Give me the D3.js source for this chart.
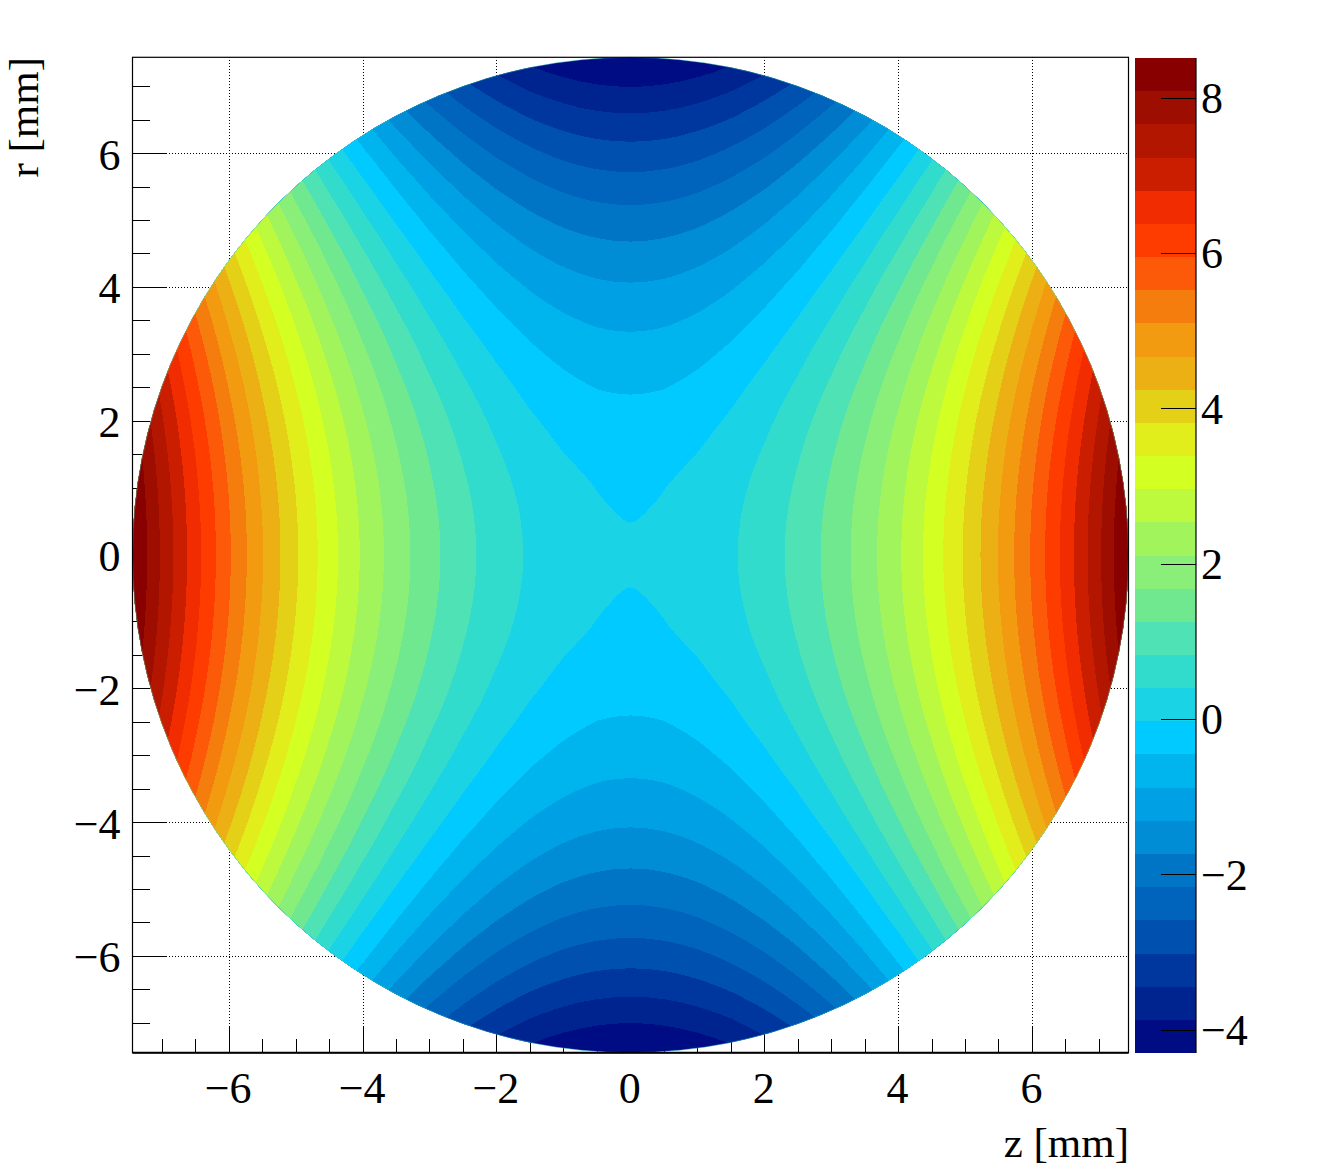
<!DOCTYPE html>
<html>
<head>
<meta charset="utf-8">
<script src="https://cdn.jsdelivr.net/npm/d3@7"></script>
<style>
  html, body { margin: 0; background: #fff; }
  text { font-family: "Liberation Serif", serif; fill: #000; }
</style>
</head>
<body>
<div id="my_dataviz"></div>
<script>
const width = 1328; const height = 1170;

// axis ranges
const zExtent = [-7.44, 7.44];
const rExtent = [-7.44, 7.44];
const colorExtent = [-4.294, 8.517];
const majorTicks = [-6, -4, -2, 0, 2, 4, 6];
const minorTicks = [-7, -6.5, -5.5, -5, -4.5, -3.5, -3, -2.5, -1.5, -1, -0.5,
    0.5, 1, 1.5, 2.5, 3, 3.5, 4.5, 5, 5.5, 6.5, 7];
const colorTicks = [-4, -2, 0, 2, 4, 6, 8];

// band colours, lowest value first
const bandColors = ["#000c84", "#00248f", "#00379e", "#0051af", "#0064bc", "#0075c6",
    "#008dd6", "#00a0e4", "#00b5ee", "#00caff", "#1ad4e6", "#32dccc", "#4fe2b4", "#6fe890",
    "#8aef78", "#a2f45c", "#bdf93c", "#d4ff22", "#e2ee1c", "#e5d018", "#ecb014", "#f29a10",
    "#f57d0e", "#fc5a08", "#ff3c00", "#f12c00", "#cb1e00", "#b21500", "#9e0e00", "#880000"];

// map values, one quadrant, the other three are mirrored
const gridStep = 0.5;
const potential = [
    [0.006, 0.045, 0.161, 0.355, 0.626, 0.975, 1.401, 1.905, 2.486, 3.145, 3.881, 4.695, 5.586, 6.555, 7.601, 8.725, 9.926],
    [-0.025, -0.0188, 0.141, 0.335, 0.606, 0.955, 1.381, 1.885, 2.466, 3.125, 3.861, 4.675, 5.566, 6.535, 7.581, 8.705, 9.906],
    [-0.073, -0.0245, 0.082, 0.276, 0.547, 0.896, 1.322, 1.826, 2.407, 3.066, 3.802, 4.616, 5.507, 6.476, 7.522, 8.646, 9.847],
    [-0.172, -0.133, -0.017, 0.177, 0.448, 0.797, 1.223, 1.727, 2.308, 2.967, 3.703, 4.517, 5.408, 6.377, 7.423, 8.547, 9.748],
    [-0.322, -0.283, -0.163, 0.035, 0.31, 0.659, 1.085, 1.589, 2.17, 2.829, 3.565, 4.379, 5.27, 6.239, 7.285, 8.409, 9.61],
    [-0.5, -0.461, -0.341, -0.143, 0.132, 0.481, 0.907, 1.411, 1.992, 2.651, 3.387, 4.201, 5.092, 6.061, 7.107, 8.231, 9.432],
    [-0.717, -0.678, -0.558, -0.36, -0.085, 0.264, 0.69, 1.194, 1.775, 2.434, 3.17, 3.984, 4.875, 5.844, 6.89, 8.014, 9.215],
    [-0.974, -0.935, -0.815, -0.617, -0.342, 0.007, 0.433, 0.937, 1.518, 2.177, 2.913, 3.727, 4.618, 5.587, 6.633, 7.757, 8.958],
    [-1.27, -1.231, -1.111, -0.913, -0.638, -0.289, 0.137, 0.641, 1.222, 1.881, 2.617, 3.431, 4.322, 5.291, 6.337, 7.461, 8.662],
    [-1.606, -1.567, -1.447, -1.249, -0.974, -0.625, -0.199, 0.305, 0.886, 1.545, 2.281, 3.095, 3.986, 4.955, 6.001, 7.125, 8.326],
    [-1.981, -1.942, -1.822, -1.624, -1.349, -1, -0.574, -0.07, 0.511, 1.17, 1.906, 2.72, 3.611, 4.58, 5.626, 6.75, 7.951],
    [-2.396, -2.357, -2.237, -2.039, -1.764, -1.415, -0.989, -0.485, 0.096, 0.755, 1.491, 2.305, 3.196, 4.165, 5.211, 6.335, 7.536],
    [-2.85, -2.811, -2.691, -2.493, -2.218, -1.869, -1.443, -0.939, -0.358, 0.301, 1.037, 1.851, 2.742, 3.711, 4.757, 5.881, 7.082],
    [-3.344, -3.305, -3.185, -2.987, -2.712, -2.363, -1.937, -1.433, -0.852, -0.193, 0.543, 1.357, 2.248, 3.217, 4.263, 5.387, 6.588],
    [-3.877, -3.838, -3.718, -3.52, -3.245, -2.896, -2.47, -1.966, -1.385, -0.726, 0.01, 0.824, 1.715, 2.684, 3.73, 4.854, 6.055],
    [-4.45, -4.411, -4.291, -4.093, -3.818, -3.469, -3.043, -2.539, -1.958, -1.299, -0.563, 0.251, 1.142, 2.111, 3.157, 4.281, 5.482],
    [-5.062, -5.023, -4.903, -4.705, -4.43, -4.081, -3.655, -3.151, -2.57, -1.911, -1.175, -0.361, 0.53, 1.499, 2.545, 3.669, 4.87]
];

const x = d3.scaleLinear().domain(zExtent).range([132.5, 1128.5]);
const y = d3.scaleLinear().domain(rExtent).range([1052.7, 57.3]);
const colorY = d3.scaleLinear().domain(colorExtent).range([1053, 58]);

// boundaries of the colour bands
const levelStep = (colorExtent[1] - colorExtent[0]) / bandColors.length;
const levels = bandColors.map((d, i) => colorExtent[0] + i * levelStep);

const svg = d3.select("#my_dataviz")
    .append("svg")
        .attr("width", width)
        .attr("height", height)
        .style("display", "block");

const fontSize = 44;
const titleSize = 43;

// dotted grid
const gridG = svg.append("g")
    .attr("stroke", "#000")
    .attr("stroke-dasharray", "1 2")
    .attr("shape-rendering", "crispEdges");
gridG.selectAll(".gx").data(majorTicks).enter().append("line")
    .attr("x1", d => x(d) + 0.3).attr("x2", d => x(d) + 0.3)
    .attr("y1", y.range()[1]).attr("y2", y.range()[0]);
gridG.selectAll(".gy").data(majorTicks).enter().append("line")
    .attr("y1", d => y(d)).attr("y2", d => y(d))
    .attr("x1", x.range()[0]).attr("x2", x.range()[1]);

// axes
function drawAxis(axis, transform) {
    const g = svg.append("g").attr("transform", transform).call(axis);
    g.select(".domain").remove();
    g.selectAll("line").attr("stroke", "#000").attr("shape-rendering", "crispEdges");
    g.selectAll("text").attr("font-size", fontSize);
    return g;
}
const bottom = y.range()[0];
const left = x.range()[0];
drawAxis(d3.axisBottom(x).offset(0.3).tickValues(minorTicks).tickSize(-14).tickFormat(""), `translate(0,${bottom})`);
drawAxis(d3.axisBottom(x).offset(0.3).tickValues(majorTicks).tickSize(-27).tickFormat(d3.format("d")), `translate(0,${bottom})`)
    .selectAll("text").attr("dy", 0).attr("y", 50).attr("dx", -1);
drawAxis(d3.axisLeft(y).offset(0).tickValues(minorTicks).tickSize(-17).tickFormat(""), `translate(${left},0)`);
drawAxis(d3.axisLeft(y).offset(0).tickValues(majorTicks).tickSize(-33).tickFormat(d3.format("d")), `translate(${left},0)`)
    .selectAll("text").attr("x", -12).attr("dy", 0).attr("y", 16);

// full matrix from the quadrant, top row first
const rowIdx = d3.range(-16, 17);
const nCols = rowIdx.length;
const cells = [];
rowIdx.forEach(i => {
    rowIdx.forEach(j => cells.push(potential[Math.abs(i)][Math.abs(j)]));
});
const gridHalf = gridStep * 16;
const gridX = d3.scaleLinear().domain([0.5, nCols - 0.5]).range([-gridHalf, gridHalf]);
const gridY = d3.scaleLinear().domain([0.5, nCols - 0.5]).range([-gridHalf, gridHalf]);

// the lowest band also takes everything under the colour range
const thresholds = levels.map((d, i) => i === 0 ? d3.min(cells) : d);
const contours = d3.contours()
    .size([nCols, nCols])
    .thresholds(thresholds)(cells);

const ringPath = d3.line()
    .x(d => x(gridX(d[0])))
    .y(d => y(gridY(d[1])))
    .curve(d3.curveBasisClosed);

svg.append("clipPath").attr("id", "disc")
  .append("ellipse")
    .attr("cx", x(0)).attr("cy", y(0))
    .attr("rx", x(zExtent[1]) - x(0)).attr("ry", y(0) - y(rExtent[1]));

const mapG = svg.append("g").attr("clip-path", "url(#disc)");
// the first threshold covers the whole grid, so paint it as a plain disc
mapG.append("rect")
    .attr("x", x.range()[0]).attr("y", y.range()[1])
    .attr("width", x.range()[1] - x.range()[0])
    .attr("height", y.range()[0] - y.range()[1])
    .attr("fill", bandColors[0]);
mapG.selectAll("path")
    .data(contours.slice(1))
    .enter().append("path")
        .attr("shape-rendering", "crispEdges")
        .attr("fill", (d, i) => bandColors[i + 1])
        .attr("fill-rule", "evenodd")
        .attr("d", d => d.coordinates
            .flatMap(poly => poly.map(ring => ringPath(ring.slice(0, -1))))
            .join(""));

// thin light rim the map leaves along its edge
svg.append("ellipse")
    .attr("cx", x(0)).attr("cy", y(0))
    .attr("rx", x(zExtent[1]) - x(0)).attr("ry", y(0) - y(rExtent[1]))
    .attr("fill", "none")
    .attr("stroke", "#3fdcc0")
    .attr("stroke-width", 0.7)
    .attr("stroke-opacity", 0.6);

// frame
svg.append("rect")
    .attr("x", x.range()[0]).attr("y", y.range()[1])
    .attr("width", x.range()[1] - x.range()[0])
    .attr("height", y.range()[0] - y.range()[1])
    .attr("fill", "none").attr("stroke", "#000").attr("stroke-width", 1.2);
svg.append("line")
    .attr("x1", x.range()[0]).attr("x2", x.range()[1])
    .attr("y1", bottom).attr("y2", bottom)
    .attr("stroke", "#000").attr("stroke-width", 2);

// colour bar
const barX = 1135; const barW = 60.5;
svg.append("g").selectAll("rect")
    .data(bandColors)
    .enter().append("rect")
        .attr("shape-rendering", "crispEdges")
        .attr("x", barX)
        .attr("width", barW)
        .attr("y", (d, i) => Math.round(colorY(levels[i] + levelStep)))
        .attr("height", (d, i) => Math.round(colorY(levels[i])) - Math.round(colorY(levels[i] + levelStep)))
        .attr("fill", d => d);
const barAxis = svg.append("g")
    .attr("transform", `translate(${barX + barW},0)`)
    .call(d3.axisRight(colorY).offset(0).tickValues(colorTicks).tickSize(-35).tickFormat(d3.format("d")));
barAxis.selectAll("line").attr("stroke", "#000").attr("shape-rendering", "crispEdges");
barAxis.select(".domain").attr("stroke", "#000").attr("stroke-width", 1.2).attr("d", "M0.5,58V1053");
barAxis.selectAll("text").attr("font-size", fontSize).attr("x", 5.5).attr("dy", 0).attr("y", 15);

// axis titles
svg.append("text")
    .attr("x", 1129).attr("y", 1157)
    .attr("text-anchor", "end").attr("font-size", titleSize)
    .text("z [mm]");
svg.append("text")
    .attr("transform", "translate(38,57) rotate(-90)")
    .attr("text-anchor", "end").attr("font-size", titleSize)
    .text("r [mm]");
</script>
</body>
</html>
